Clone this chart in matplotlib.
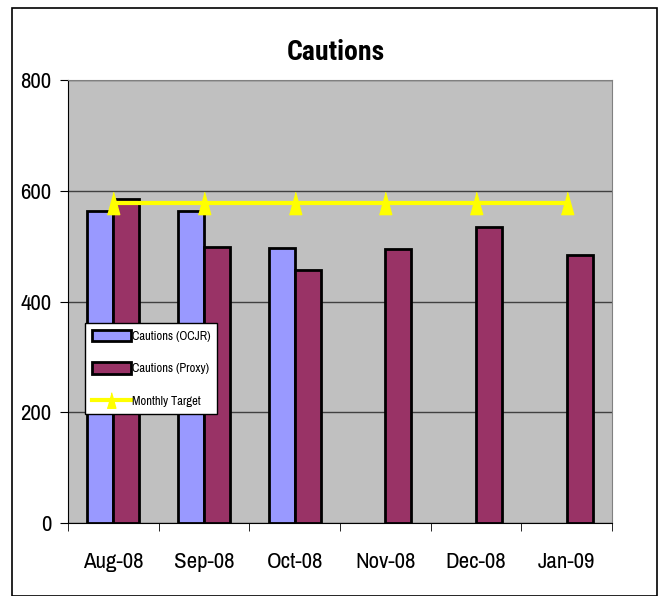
import matplotlib.pyplot as plt
import numpy as np
from matplotlib.patches import Rectangle

months = ['Aug-08', 'Sep-08', 'Oct-08', 'Nov-08', 'Dec-08', 'Jan-09']
ocjr = [563, 563, 496, 0, 0, 0]
proxy = [585, 498, 457, 495, 534, 484]
target = [578, 578, 578, 578, 578, 578]

plt.rcParams['font.family'] = ['Liberation Sans Narrow', 'Archivo Narrow', 'DejaVu Sans']

fig = plt.figure(figsize=(6.59, 5.96), dpi=100)
ax = fig.add_axes([68 / 659, 1 - 523 / 596, (612 - 68) / 659, (523 - 80) / 596])

# outer chart frame
fig.patches.append(Rectangle((12 / 659, 0), 645 / 659, 1 - 8 / 596, transform=fig.transFigure,
                             fill=False, edgecolor='black', linewidth=1.2))

x = np.arange(len(months))
w = 0.285
tall_tri = [(-0.28, -0.5), (0.28, -0.5), (0, 0.5)]
ax.set_facecolor('#c0c0c0')
b1 = ax.bar(x[:3] - w / 2, ocjr[:3], w, color='#9999ff', edgecolor='black', linewidth=2,
            label='Cautions (OCJR)', zorder=3)
b2 = ax.bar(x + w / 2, proxy, w, color='#993366', edgecolor='black', linewidth=2,
            label='Cautions (Proxy)', zorder=3)
ln, = ax.plot(x, target, color='#ffff00', linewidth=3, marker=tall_tri, markersize=16,
              label='Monthly Target', zorder=4)

ax.set_xlim(-0.5, len(months) - 0.5)
ax.set_ylim(0, 800)
ax.set_yticks([0, 200, 400, 600, 800])
ax.yaxis.grid(True, color='#404040', linewidth=1, zorder=1)
ax.set_axisbelow(True)
ax.set_xticks(x)
ax.set_xticklabels(months, fontsize=16.5)
ax.tick_params(axis='x', length=0, pad=21)
ax.set_xticks(np.arange(-0.5, len(months)), minor=True)
ax.tick_params(axis='x', which='minor', length=6, direction='out')
ax.tick_params(axis='y', labelsize=16.5, length=6, direction='out', pad=6)
for s in ['top', 'right']:
    ax.spines[s].set_color('#808080')
ax.spines['left'].set_color('black')
ax.spines['bottom'].set_color('black')

fig.text(0.51, 1 - 52 / 596, 'Cautions', ha='center', va='center', fontsize=20,
         fontweight='bold', family=['Roboto Condensed', 'Asap Condensed', 'DejaVu Sans'])

leg = ax.legend([b1, b2, ln], ['Cautions (OCJR)', 'Cautions (Proxy)', 'Monthly Target'],
                loc='upper left', bbox_to_anchor=(17 / 544, (523 - 323) / 443), fontsize=9,
                frameon=True, fancybox=False, edgecolor='black', framealpha=1,
                handlelength=3.1, handleheight=1.0, handletextpad=0.1, labelspacing=1.65,
                borderpad=0.55, borderaxespad=0, markerscale=0.7)
leg.get_frame().set_linewidth(1)

fig.savefig('out.png', dpi=100)
